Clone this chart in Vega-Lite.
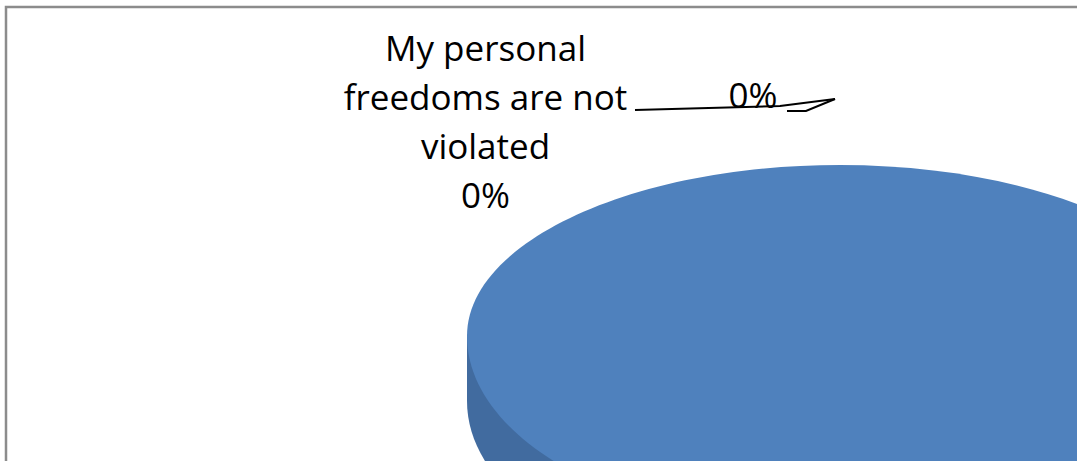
{
  "$schema": "https://vega.github.io/schema/vega-lite/v6.json",
  "width": 1668,
  "height": 658,
  "autosize": {"type": "none"},
  "padding": {"left": 6, "top": 7, "right": -597, "bottom": -204},
  "background": "white",
  "config": {"view": {"stroke": "#8c8c8c", "strokeWidth": 2.5}},
  "data": {
    "values": [
      {"category": "My personal freedoms are not violated", "share": 0},
      {"category": "Other answer", "share": 0},
      {"category": "My personal freedoms are violated", "share": 1}
    ]
  },
  "layer": [
    {
      "transform": [{"filter": "datum.share > 0"}],
      "mark": {
        "type": "rect",
        "fill": null,
        "filled": false,
        "stroke": "#8c8c8c",
        "strokeWidth": 2.5
      },
      "encoding": {}
    },
    {
      "transform": [{"filter": "datum.share > 0"}],
      "mark": {
        "type": "point",
        "shape": "M-1,0L-1,0.1743C-1,0.4632,-0.5523,0.6973,0,0.6973C0.5523,0.6973,1,0.4632,1,0.1743L1,0Z",
        "filled": true,
        "color": "#416b9f",
        "opacity": 1,
        "size": 556516,
        "strokeWidth": 0
      },
      "encoding": {}
    },
    {
      "transform": [{"filter": "datum.share > 0"}],
      "mark": {
        "type": "point",
        "shape": "M-1,0C-1,-0.2532,-0.5523,-0.4584,0,-0.4584C0.5523,-0.4584,1,-0.2532,1,0C1,0.2889,0.5523,0.523,0,0.523C-0.5523,0.523,-1,0.2889,-1,0Z",
        "filled": true,
        "color": "#4f81bd",
        "opacity": 1,
        "size": 556516,
        "strokeWidth": 0
      },
      "encoding": {}
    },
    {
      "transform": [{"filter": "datum.category == 'My personal freedoms are not violated'"}],
      "mark": {
        "type": "point",
        "shape": "M-0.5496,-0.6059L-0.1609,-0.6166L-0.0134,-0.6354",
        "filled": false,
        "stroke": "black",
        "opacity": 1,
        "size": 556516,
        "strokeWidth": 2
      },
      "encoding": {}
    },
    {
      "transform": [{"filter": "datum.category == 'Other answer'"}],
      "mark": {
        "type": "point",
        "shape": "M-0.1421,-0.6032L-0.0912,-0.6032L-0.0134,-0.6354",
        "filled": false,
        "stroke": "black",
        "opacity": 1,
        "size": 556516,
        "strokeWidth": 2
      },
      "encoding": {}
    },
    {
      "transform": [
        {"filter": "datum.category == 'My personal freedoms are not violated'"},
        {"calculate": "replace(datum.category, regexp('(.{1,16})(\\\\s|$)', 'g'), '$1\\n') + format(datum.share, '.0%')", "as": "label"}
      ],
      "mark": {
        "type": "text",
        "font": "Open Sans",
        "fontSize": 35,
        "color": "black",
        "align": "center",
        "baseline": "alphabetic",
        "lineBreak": "\n",
        "lineHeight": 49,
        "dx": -354.5,
        "dy": -275
      },
      "encoding": {"text": {"field": "label"}}
    },
    {
      "transform": [{"filter": "datum.category == 'Other answer'"}],
      "mark": {
        "type": "text",
        "font": "Open Sans",
        "fontSize": 35,
        "color": "black",
        "align": "center",
        "baseline": "alphabetic",
        "dx": -87,
        "dy": -228
      },
      "encoding": {"text": {"field": "share", "type": "quantitative", "format": ".0%"}}
    }
  ]
}
